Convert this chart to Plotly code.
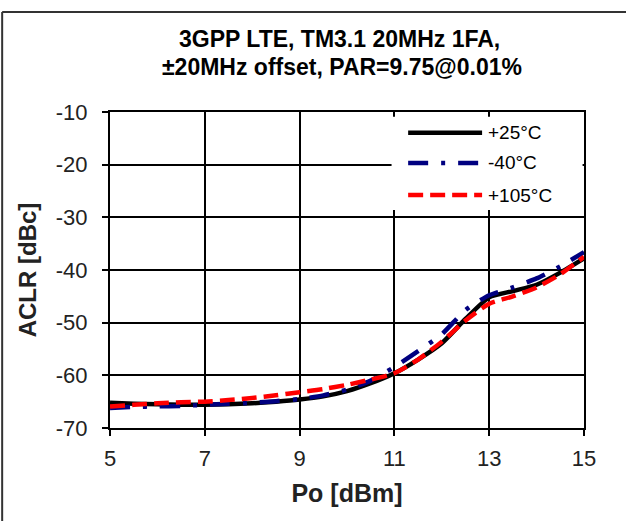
import plotly.graph_objects as go

po = [5, 5.5, 6, 6.5, 7, 7.5, 8, 8.5, 9, 9.5, 10, 10.5, 11, 11.5, 12, 12.5, 13, 13.5, 14, 14.5, 15]
aclr_25 = [-65.2, -65.4, -65.5, -65.6, -65.6, -65.5, -65.3, -65.0, -64.6, -64.0, -63.0, -61.5,
           -59.6, -57.0, -53.9, -49.3, -45.2, -44.0, -42.8, -40.5, -37.8]
aclr_m40 = [-66.2, -66.0, -65.9, -65.8, -65.6, -65.4, -65.2, -64.9, -64.5, -63.8, -62.7, -61.0,
            -58.4, -55.4, -52.2, -47.6, -44.8, -43.3, -41.6, -39.3, -36.6]
aclr_105 = [-65.9, -65.6, -65.3, -65.1, -65.0, -64.7, -64.3, -63.8, -63.2, -62.6, -61.8, -60.8,
            -59.6, -57.0, -53.6, -49.6, -46.4, -45.0, -43.3, -40.8, -37.5]
series_names = ["+25°C", "-40°C", "+105°C"]
x_ticks = [5, 7, 9, 11, 13, 15]
y_ticks = [-10, -20, -30, -40, -50, -60, -70]
title_lines = ["3GPP LTE, TM3.1 20MHz 1FA,", "±20MHz offset, PAR=9.75@0.01%"]

styles = [
    dict(color="#000000", dash="solid"),
    dict(color="#000080", dash="20px,13px,4px,13px"),
    dict(color="#FF0000", dash="15px,7px"),
]

FONT = "Liberation Sans, Arial, sans-serif"
fig = go.Figure()
for name, ys, st in zip(series_names, [aclr_25, aclr_m40, aclr_105], styles):
    fig.add_trace(go.Scatter(x=po, y=ys, mode="lines", name=name,
                             line=dict(color=st["color"], dash=st["dash"], width=4.5, shape="spline", smoothing=0.6),
                             showlegend=False))

# custom legend (paper coordinates)
shapes = [
    dict(type="rect", xref="paper", yref="paper", x0=0.594, x1=0.997, y0=0.69, y1=0.985,
         fillcolor="white", line=dict(width=0), layer="above"),
]
annotations = []
leg_y = [0.934, 0.839, 0.737]
for name, st, ly in zip(series_names, styles, leg_y):
    shapes.append(dict(type="line", xref="paper", yref="paper", x0=0.629, x1=0.785, y0=ly, y1=ly,
                       line=dict(color=st["color"], dash=st["dash"], width=4.5), layer="above"))
    annotations.append(dict(x=0.793, y=ly, xref="paper", yref="paper", text=name, showarrow=False,
                            xanchor="left", yanchor="middle", font=dict(family=FONT, size=19, color="black")))

# title lines
for txt, yy, xx in zip(title_lines, [1.231, 1.142], [0.485, 0.49]):
    annotations.append(dict(x=xx, y=yy, xref="paper", yref="paper", text="<b>" + txt + "</b>",
                            showarrow=False, xanchor="center", yanchor="middle",
                            font=dict(family=FONT, size=23, color="black")))

# outer frame (top and left edges)
shapes.append(dict(type="line", xref="paper", yref="paper", x0=-0.2275, x1=1.2, y0=1.3165, y1=1.3165,
                   line=dict(color="#333333", width=2)))
shapes.append(dict(type="line", xref="paper", yref="paper", x0=-0.2275, x1=-0.2275, y0=-0.3, y1=1.3165,
                   line=dict(color="#333333", width=2)))

fig.update_layout(
    width=626, height=521,
    margin=dict(l=110, r=42, t=112, b=93),
    paper_bgcolor="white", plot_bgcolor="white",
    xaxis=dict(range=[5, 15], tickvals=x_ticks, ticktext=[str(v) for v in x_ticks],
               showgrid=True, gridcolor="black", gridwidth=1.5,
               showline=True, linecolor="black", linewidth=2, mirror=True,
               ticks="outside", ticklen=6, tickcolor="black", tickwidth=1.5, ticklabelstandoff=4,
               tickfont=dict(family=FONT, size=22, color="#222222"), zeroline=False,
               title=dict(text="<b>Po [dBm]</b>", font=dict(family=FONT, size=25, color="#222222"), standoff=14)),
    yaxis=dict(range=[-70, -10], tickvals=y_ticks, ticktext=[str(v) for v in y_ticks],
               showgrid=True, gridcolor="black", gridwidth=1.5,
               showline=True, linecolor="black", linewidth=2, mirror=True,
               ticks="outside", ticklen=6, tickcolor="black", tickwidth=1.5, ticklabelstandoff=10,
               tickfont=dict(family=FONT, size=22, color="#222222"), zeroline=False,
               title=dict(text="<b>ACLR [dBc]</b>", font=dict(family=FONT, size=24, color="#222222"), standoff=12)),
    shapes=shapes,
    annotations=annotations,
)

fig.write_html("out.html")
